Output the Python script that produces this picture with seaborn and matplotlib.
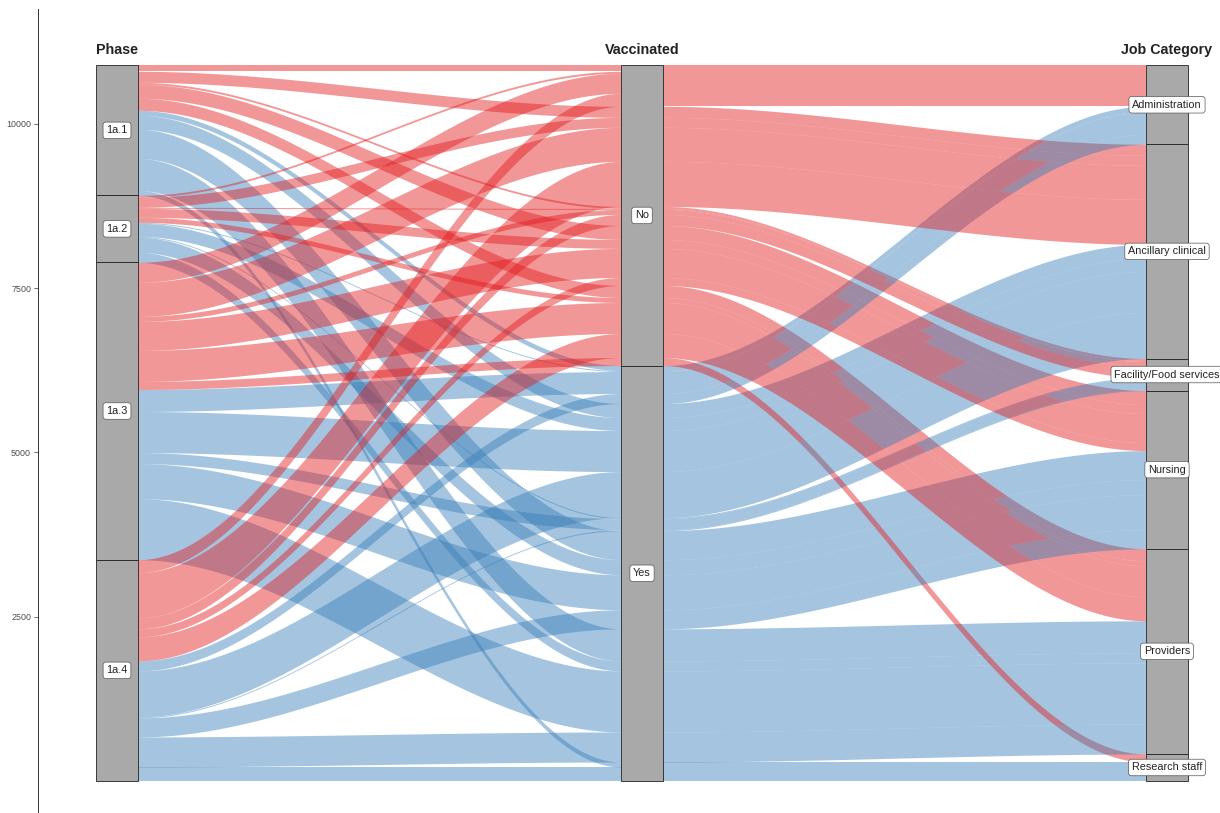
import numpy as np
import pandas as pd
import seaborn as sns
import matplotlib.pyplot as plt

phases = ["1a.1", "1a.2", "1a.3", "1a.4"]
vacc_levels = ["No", "Yes"]
jobs = ["Administration", "Ancillary clinical", "Facility/Food services",
        "Nursing", "Providers", "Research staff"]

# staff counts, rows = phase, columns = job category
not_vaccinated = [
    [91, 168, 30, 213, 183, 0],
    [30, 152, 15, 137, 76, 0],
    [305, 518, 76, 442, 472, 122],
    [198, 686, 168, 122, 366, 0],
]
vaccinated = [
    [76, 213, 0, 442, 488, 76],
    [15, 198, 15, 229, 152, 0],
    [335, 625, 168, 533, 930, 0],
    [152, 701, 15, 290, 457, 213],
]
axis_titles = ["Phase", "Vaccinated", "Job Category"]
y_ticks = [2500, 5000, 7500, 10000]

sns.set_theme(style="white")
plt.rcParams['font.family'] = ['Liberation Sans', 'DejaVu Sans']
pal = sns.color_palette("Set1")
fill_col = {"No": pal[0], "Yes": pal[1]}

rows = []
for i, p in enumerate(phases):
    for k, j in enumerate(jobs):
        rows.append((p, "No", j, not_vaccinated[i][k]))
        rows.append((p, "Yes", j, vaccinated[i][k]))
df = pd.DataFrame(rows, columns=["phase", "vacc", "job", "n"])
df = df[df.n > 0].copy()
df["pi"] = df.phase.map({p: i for i, p in enumerate(phases)})
df["vi"] = df.vacc.map({v: i for i, v in enumerate(vacc_levels)})
df["ji"] = df.job.map({j: i for i, j in enumerate(jobs)})
total = df.n.sum()


def stack(keys):
    d = df.sort_values(keys)
    top = total - d.n.cumsum() + d.n
    return top.reindex(df.index), (top - d.n).reindex(df.index)


# lode order inside each stratum (zigzag like ggalluvial)
tops, bots = [], []
for keys in (["pi", "vi", "ji"], ["vi", "ji", "pi"], ["ji", "vi", "pi"]):
    t, b = stack(keys)
    tops.append(t)
    bots.append(b)

w = 0.08
fig = plt.figure(figsize=(12.2, 8.13), dpi=100)
ax = fig.add_axes([38 / 1220, 1 / 813, 1 - 38 / 1220, 803 / 813])

# alluvia
for idx, r in df.iterrows():
    for a in range(2):
        x0, x1 = a + 1 + w / 2, a + 2 - w / 2
        xs = np.linspace(x0, x1, 80)
        t = (xs - x0) / (x1 - x0)
        s = t * t * (3 - 2 * t)
        hi = tops[a][idx] + (tops[a + 1][idx] - tops[a][idx]) * s
        lo = bots[a][idx] + (bots[a + 1][idx] - bots[a][idx]) * s
        ax.fill_between(xs, lo, hi, color=fill_col[r.vacc], alpha=0.45, lw=0)

# strata
for a, (col, levels) in enumerate([("phase", phases), ("vacc", vacc_levels), ("job", jobs)]):
    sums = df.groupby(col).n.sum().reindex(levels)
    top = total
    for lev, val in sums.items():
        ax.bar(a + 1, val, bottom=top - val, width=w, color="darkgrey",
               edgecolor="#222222", linewidth=0.6, zorder=3)
        ax.text(a + 1, top - val / 2, lev, ha="center", va="center", fontsize=7.8,
                color="#222222", zorder=4,
                bbox=dict(boxstyle="round,pad=0.3,rounding_size=0.25", fc="white",
                          ec="#555555", lw=0.5))
        top -= val
    ax.text(a + 1, 11130, axis_titles[a], ha="center", va="center", fontsize=10.3,
            fontweight="bold", color="#222222")

ax.set_xlim(1 + (38 - 117) / 525, 3 + (1220 - 1167) / 525)
ax.set_ylim(-472, 11750)
ax.set_xticks([])
ax.set_yticks(y_ticks)
ax.set_yticklabels([str(v) for v in y_ticks], fontsize=6.4, color="#4d4d4d")
ax.tick_params(axis="y", length=3, width=0.5, color="#333333", pad=2, left=True)
sns.despine(ax=ax, bottom=True)
ax.spines["left"].set_linewidth(0.7)
ax.spines["left"].set_color("#333333")
ax.set_facecolor("white")

fig.savefig("out.png", dpi=100)
